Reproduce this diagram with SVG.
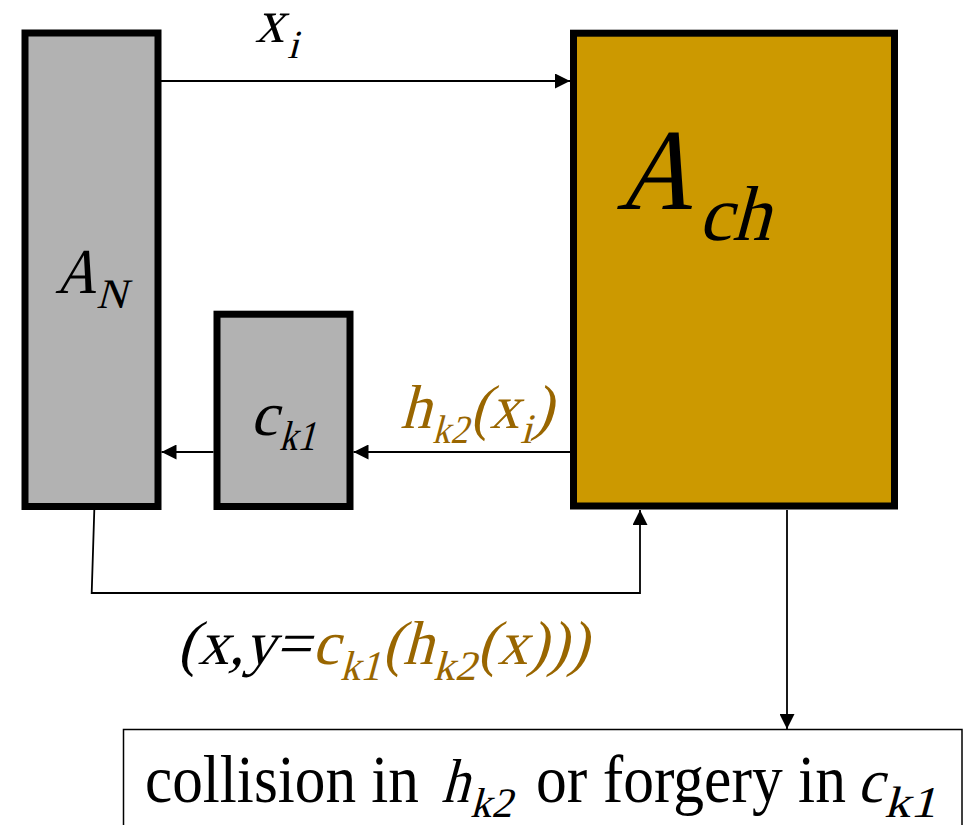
<svg xmlns="http://www.w3.org/2000/svg" width="969" height="825" viewBox="0 0 969 825">
<defs>
<style>
.box{stroke:#000;stroke-width:7}
.gray{fill:#B2B2B2}
.gold{fill:#CC9900}
.conn{stroke:#000;stroke-width:1.8;fill:none}
text{font-family:"Liberation Serif","Times New Roman",serif;fill:#000}
.o{fill:#996600}
</style>
<marker id="ah" viewBox="0 0 15 15" refX="15" refY="7.5" markerWidth="15" markerHeight="15" markerUnits="userSpaceOnUse" orient="auto">
<path d="M0,0 L15,7.5 L0,15 Z" fill="#000"/>
</marker>
</defs>
<rect width="969" height="825" fill="#fff"/>
<g id="connectors">
<line class="conn" x1="161" y1="81" x2="570" y2="81" marker-end="url(#ah)"/>
<line class="conn" x1="570" y1="452" x2="353.5" y2="452" marker-end="url(#ah)"/>
<line class="conn" x1="213.5" y1="452" x2="161.5" y2="452" marker-end="url(#ah)"/>
<polyline class="conn" points="94.3,510 91.7,593 640,593 640,510" marker-end="url(#ah)"/>
<line class="conn" x1="787" y1="510" x2="787" y2="729" marker-end="url(#ah)"/>
</g>
<g id="node-AN">
<rect class="box gray" x="25" y="33" width="133" height="473.5"/>
<text transform="translate(55,293) skewX(-15)" font-size="64" textLength="41" lengthAdjust="spacingAndGlyphs">A</text>
<text transform="translate(96,308) skewX(-15)" font-size="42">N</text>
</g>
<g id="node-ck1">
<rect class="box gray" x="217" y="314.2" width="133" height="192.3"/>
<text transform="translate(250,435) skewX(-15)" font-size="62">c</text>
<text transform="translate(279,450) skewX(-15)" font-size="42" textLength="36" lengthAdjust="spacingAndGlyphs">k1</text>
</g>
<g id="node-Ach">
<rect class="box gold" x="573.5" y="33.2" width="321" height="472.8"/>
<text transform="translate(616,209) skewX(-15)" font-size="116" textLength="76" lengthAdjust="spacingAndGlyphs">A</text>
<text transform="translate(698,240) skewX(-15)" font-size="78" textLength="72" lengthAdjust="spacingAndGlyphs">ch</text>
</g>
<g id="label-xi">
<text transform="translate(255,42) skewX(-15)" font-size="62" textLength="29" lengthAdjust="spacingAndGlyphs">x</text>
<text transform="translate(287,58) skewX(-15)" font-size="40">i</text>
</g>
<g id="label-hk2">
<text class="o" transform="translate(400,428) skewX(-15)" font-size="62">h</text>
<text class="o" transform="translate(432,443) skewX(-15)" font-size="40" textLength="36" lengthAdjust="spacingAndGlyphs">k2</text>
<text class="o" transform="translate(470,428) skewX(-15)" font-size="62" textLength="49" lengthAdjust="spacingAndGlyphs">(x</text>
<text class="o" transform="translate(520,443) skewX(-15)" font-size="42">i</text>
<text class="o" transform="translate(532,428) skewX(-15)" font-size="62">)</text>
</g>
<g id="label-pair">
<text transform="translate(177,664) skewX(-15)" font-size="62" textLength="133" lengthAdjust="spacingAndGlyphs">(x,y=</text>
<text class="o" transform="translate(312,664) skewX(-15)" font-size="62" textLength="27" lengthAdjust="spacingAndGlyphs">c</text>
<text class="o" transform="translate(340,680) skewX(-15)" font-size="42" textLength="40" lengthAdjust="spacingAndGlyphs">k1</text>
<text class="o" transform="translate(382,664) skewX(-15)" font-size="62" textLength="51" lengthAdjust="spacingAndGlyphs">(h</text>
<text class="o" transform="translate(433,680) skewX(-15)" font-size="42" textLength="43" lengthAdjust="spacingAndGlyphs">k2</text>
<text class="o" transform="translate(477,664) skewX(-15)" font-size="62" textLength="111" lengthAdjust="spacingAndGlyphs">(x)))</text>
</g>
<g id="node-result">
<rect x="123.5" y="729.5" width="838.5" height="120" fill="#fff" stroke="#000" stroke-width="1.5"/>
<text x="145" y="802" font-size="68" textLength="274" lengthAdjust="spacingAndGlyphs">collision in</text>
<text transform="translate(441,802) skewX(-15)" font-size="62" textLength="28" lengthAdjust="spacingAndGlyphs">h</text>
<text transform="translate(470,817) skewX(-15)" font-size="42" textLength="42" lengthAdjust="spacingAndGlyphs">k2</text>
<text x="536" y="802" font-size="68" textLength="310" lengthAdjust="spacingAndGlyphs">or forgery in</text>
<text transform="translate(857,802) skewX(-15)" font-size="62" textLength="26" lengthAdjust="spacingAndGlyphs">c</text>
<text transform="translate(884,817) skewX(-15)" font-size="44" textLength="52" lengthAdjust="spacingAndGlyphs">k1</text>
</g>
</svg>
